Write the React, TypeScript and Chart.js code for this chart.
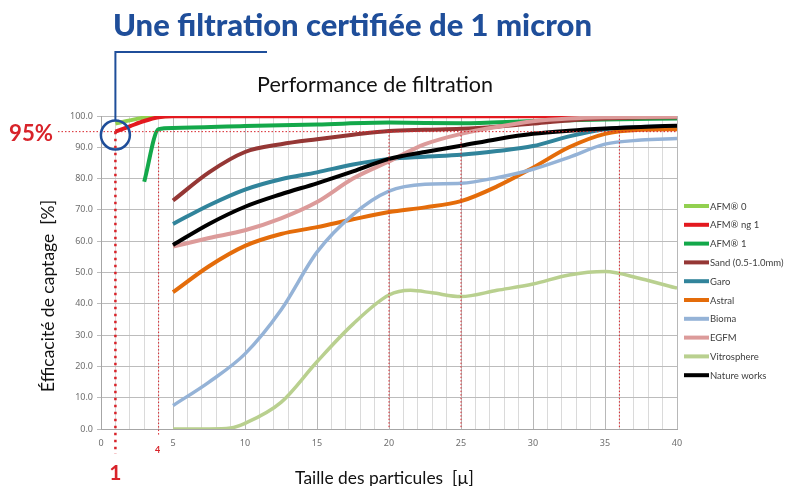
import React, { useEffect, useRef } from "react";
import { Chart, registerables } from "chart.js";

Chart.register(...registerables);

// ---- Data ----
const seriesNames = [
  "AFM® 0",
  "AFM® ng 1",
  "AFM® 1",
  "Sand (0.5-1.0mm)",
  "Garo",
  "Astral",
  "Bioma",
  "EGFM",
  "Vitrosphere",
  "Nature works",
];
const seriesColors = [
  "#92d050",
  "#e3191f",
  "#13a84a",
  "#953735",
  "#31849b",
  "#e46c0a",
  "#95b3d7",
  "#dc9b9a",
  "#b9d08f",
  "#000000",
];

const afm0X = [1, 2, 3, 4, 5, 40];
const afm0Y = [97.6, 98.6, 99.5, 99.9, 100, 100];
const afmNg1X = [1, 2, 3, 4, 5, 40];
const afmNg1Y = [95, 96.7, 98.4, 99.6, 99.9, 99.9];
const afm1X = [3, 4, 5, 10, 15, 20, 25, 30, 35, 40];
const afm1Y = [79, 95.8, 96.2, 96.8, 97.3, 97.9, 97.7, 98.4, 98.9, 99.2];

const sizes = [5, 7.5, 10, 12.5, 15, 17.5, 20, 22.5, 25, 27.5, 30, 32.5, 35, 37.5, 40];
const sandY = [73, 82, 88.5, 91, 92.6, 94, 95.2, 95.6, 95.9, 96.6, 97.6, 98.6, 99.2, 99.5, 99.6];
const garoY = [65.5, 71.5, 76.5, 79.8, 82, 84.5, 86.3, 87, 87.6, 88.8, 90.4, 93.5, 95.8, 96.5, 96.8];
const astralY = [43.7, 52, 58.5, 62.3, 64.5, 67, 69.3, 70.8, 72.8, 77.5, 83.5, 90, 94.3, 95.6, 95.8];
const biomaY = [7.5, 15, 24, 38, 56.5, 68.5, 76, 78.2, 78.5, 80.3, 83, 86.8, 91, 92.3, 92.8];
const egfmY = [58.3, 61, 63.5, 67.3, 72.5, 80, 85.5, 91, 94.3, 96.5, 98.3, 99.2, 99.6, 99.7, 99.8];
const natureY = [58.8, 65.5, 71, 75, 78.5, 82.3, 86.3, 88.5, 90.5, 92.6, 94.3, 95.3, 96, 96.5, 96.9];

const vitroX = [5, 7.5, 9, 10, 12.5, 15, 17.5, 20, 21.5, 23, 25, 27.5, 30, 32.5, 35, 37.5, 40];
const vitroY = [0, 0, 0.3, 1.8, 8.5, 21.5, 33.5, 42.8, 44.3, 43.5, 42.3, 44.3, 46.3, 49.2, 50.3, 48, 45];

const xTickValues = [0, 5, 10, 15, 20, 25, 30, 35, 40];
const markerLinesX = [20, 25, 36];

const titleText = "Une filtration certifiée de 1 micron";
const subtitleText = "Performance de filtration";
const yTitleText = "Éfficacité de captage  [%]";
const xTitleText = "Taille des particules  [µ]";

const zip = (xs: number[], ys: number[]) => xs.map((x, i) => ({ x, y: ys[i] }));

const seriesPoints = [
  zip(afm0X, afm0Y),
  zip(afmNg1X, afmNg1Y),
  zip(afm1X, afm1Y),
  zip(sizes, sandY),
  zip(sizes, garoY),
  zip(sizes, astralY),
  zip(sizes, biomaY),
  zip(sizes, egfmY),
  zip(vitroX, vitroY),
  zip(sizes, natureY),
];

function fitFont(ctx: CanvasRenderingContext2D, text: string, weight: string, family: string, width: number) {
  ctx.font = `${weight} 20px ${family}`;
  const w = ctx.measureText(text).width;
  const size = (20 * width) / w;
  ctx.font = `${weight} ${size}px ${family}`;
  return size;
}

const annotations = {
  id: "annotations",
  afterDraw(chart: any) {
    const ctx: CanvasRenderingContext2D = chart.ctx;
    const xs = chart.scales.x;
    const ys = chart.scales.y;
    const y95 = ys.getPixelForValue(95);
    const red = "#d8232a";
    const blue = "#1f4e9a";
    ctx.save();

    // thin red dotted guide lines
    ctx.strokeStyle = red;
    ctx.lineWidth = 1;
    ctx.setLineDash([1.5, 2]);
    const seg = (x1: number, y1: number, x2: number, y2: number) => {
      ctx.beginPath();
      ctx.moveTo(x1, y1);
      ctx.lineTo(x2, y2);
      ctx.stroke();
    };
    seg(58, y95, xs.right, y95);
    markerLinesX.forEach((v) => {
      const px = xs.getPixelForValue(v);
      seg(px, y95, px, ys.bottom);
    });
    const px4 = xs.getPixelForValue(4);
    seg(px4, ys.getPixelForValue(91.5), px4, ys.bottom + 6);

    // thick dotted line at 1 micron
    const px1 = xs.getPixelForValue(1);
    ctx.lineWidth = 2.5;
    ctx.setLineDash([2.5, 4.5]);
    seg(px1, y95, px1, 454);
    ctx.setLineDash([]);

    // blue callout
    ctx.strokeStyle = blue;
    ctx.lineWidth = 2.5;
    ctx.beginPath();
    ctx.arc(px1, 135, 14.5, 0, Math.PI * 2);
    ctx.stroke();
    ctx.lineWidth = 2;
    ctx.beginPath();
    ctx.moveTo(px1, 120.5);
    ctx.lineTo(px1, 52);
    ctx.lineTo(267, 52);
    ctx.stroke();

    // titles
    ctx.textAlign = "center";
    ctx.textBaseline = "alphabetic";
    ctx.fillStyle = blue;
    fitFont(ctx, titleText, "900", "Lato", 479);
    ctx.fillText(titleText, 352.5, 36);

    ctx.fillStyle = "#111";
    fitFont(ctx, subtitleText, "normal", "Lato", 236);
    ctx.fillText(subtitleText, 375, 92);

    fitFont(ctx, xTitleText, "normal", "Lato", 179);
    ctx.fillText(xTitleText, 384.5, 484);

    ctx.save();
    ctx.translate(54, 296);
    ctx.rotate(-Math.PI / 2);
    fitFont(ctx, yTitleText, "normal", "Lato", 192);
    ctx.fillText(yTitleText, 0, 0);
    ctx.restore();

    // red labels
    ctx.fillStyle = red;
    ctx.textAlign = "left";
    fitFont(ctx, "95%", "bold", "Lato", 44);
    ctx.fillText("95%", 9, 141);
    ctx.textAlign = "center";
    ctx.font = "bold 21px Lato";
    ctx.fillText("1", px1, 480);
    ctx.font = "bold 9px Lato";
    ctx.fillText("4", px4 - 1, 453);

    // legend
    const ds = chart.data.datasets;
    ctx.textAlign = "left";
    ctx.textBaseline = "middle";
    ctx.font = "9.5px Lato";
    ds.forEach((d: any, i: number) => {
      const ly = 206 + i * 18.8;
      ctx.strokeStyle = d.borderColor;
      ctx.lineWidth = 4;
      ctx.beginPath();
      ctx.moveTo(684, ly);
      ctx.lineTo(709, ly);
      ctx.stroke();
      ctx.fillStyle = "#404040";
      ctx.fillText(d.label, 710, ly + 0.5);
    });

    ctx.restore();
  },
};

export default function App() {
  const ref = useRef<HTMLCanvasElement | null>(null);

  useEffect(() => {
    if (!ref.current) return;
    const datasets = seriesNames.map((name, i) => ({
      label: name,
      data: seriesPoints[i],
      borderColor: seriesColors[i],
      backgroundColor: seriesColors[i],
      borderWidth: i === 6 || i === 8 ? 3.5 : 4,
      pointRadius: 0,
      fill: false,
      cubicInterpolationMode: "monotone" as const,
      order: 20 - i,
    }));

    const chart = new Chart(ref.current, {
      type: "line",
      data: { datasets },
      plugins: [annotations],
      options: {
        animation: false,
        responsive: false,
        devicePixelRatio: 1,
        layout: { padding: { top: 116, right: 109, left: 0, bottom: 0 } },
        plugins: {
          legend: { display: false },
          tooltip: { enabled: false },
          title: { display: false },
        },
        scales: {
          x: {
            type: "linear",
            min: 0,
            max: 40,
            afterFit: (s: any) => {
              s.height = 57;
            },
            afterBuildTicks: (s: any) => {
              const t = [];
              for (let v = 0; v <= 40; v++) t.push({ value: v });
              s.ticks = t;
            },
            ticks: {
              autoSkip: false,
              maxRotation: 0,
              padding: 9,
              color: "#6e6e6e",
              font: { family: "Noto Sans", size: 9 },
              callback: (v: any) => (xTickValues.includes(Number(v)) ? String(v) : ""),
            },
            grid: {
              drawTicks: false,
              color: (c: any) => (c.tick && c.tick.value % 5 === 0 ? "#b8b8b8" : "#dadada"),
              lineWidth: 1,
            },
            border: { color: "#a6a6a6" },
          },
          y: {
            min: 0,
            max: 100,
            afterFit: (s: any) => {
              s.width = 101;
            },
            ticks: {
              stepSize: 10,
              padding: 4,
              color: "#6e6e6e",
              font: { family: "Noto Sans", size: 9 },
              callback: (v: any) => Number(v).toFixed(1),
            },
            grid: { color: "#bcbcbc", tickLength: 4, lineWidth: 1 },
            border: { color: "#a6a6a6" },
          },
        },
      },
    });
    return () => chart.destroy();
  }, []);

  return (
    <div style={{ position: "fixed", left: 0, top: 0, width: 786, height: 486, background: "#fff" }}>
      <canvas ref={ref} width={786} height={486} style={{ display: "block" }} />
    </div>
  );
}
